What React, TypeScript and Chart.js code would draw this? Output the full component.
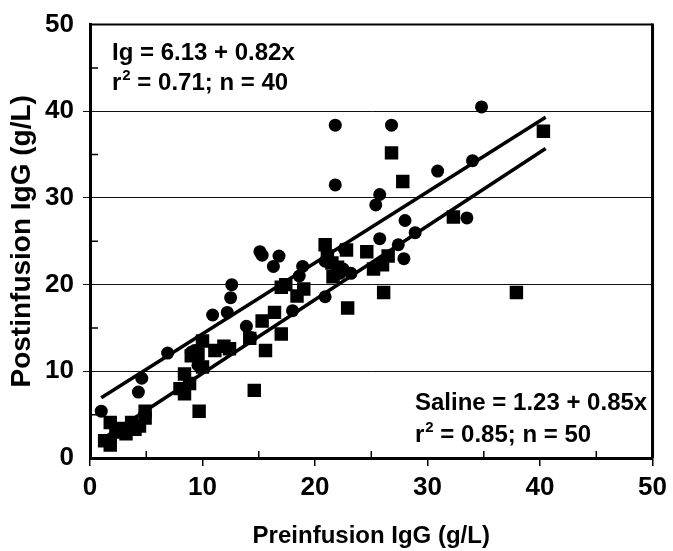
import React, { useEffect, useRef } from 'react';
import { Chart, registerables } from 'chart.js';
Chart.register(...registerables);

// Ig group (circles), n = 40
const igX = [1.0, 4.3, 4.6, 6.9, 9.0, 9.3, 9.6, 10.9, 12.2, 12.5, 12.6, 13.9, 14.3, 15.1, 15.3, 16.3, 16.8, 18.0, 18.6, 18.9, 20.9, 20.9, 21.8, 21.8, 22.6, 22.2, 23.2, 25.4, 25.75, 25.75, 26.8, 27.4, 27.9, 28.0, 28.9, 30.9, 33.5, 34.0, 34.8, 22.5];
const igY = [5.4, 7.6, 9.2, 12.1, 12.2, 12.4, 10.7, 16.5, 16.8, 18.5, 20.0, 15.2, 13.9, 23.8, 23.4, 22.1, 23.3, 17.0, 21.0, 22.1, 18.6, 22.7, 38.4, 31.5, 24.1, 21.3, 21.3, 29.2, 30.4, 25.3, 38.4, 24.6, 23.0, 27.4, 26.0, 33.1, 27.7, 34.3, 40.5, 21.8];

// Saline group (squares), n = 50
const salX = [1.3, 1.8, 1.8, 2.6, 3.2, 3.7, 4.0, 4.4, 4.9, 4.9, 8.4, 8.4, 8.85, 9.0, 9.6, 9.7, 10.0, 10.0, 11.1, 11.9, 14.2, 14.6, 15.3, 15.6, 16.4, 17.0, 17.0, 17.4, 18.4, 20.9, 21.1, 21.6, 22.0, 22.9, 22.8, 24.6, 25.2, 26.0, 26.1, 26.5, 26.8, 27.8, 32.3, 37.9, 40.3, 8.0, 2.3, 21.5, 19.0, 12.4];
const salY = [2.0, 1.5, 4.1, 3.4, 2.8, 4.1, 3.3, 3.7, 4.6, 5.4, 7.4, 9.7, 8.6, 11.8, 12.0, 5.4, 13.5, 10.5, 12.4, 12.9, 13.8, 7.8, 15.8, 12.4, 16.8, 14.3, 19.7, 20.0, 18.7, 24.6, 23.3, 20.9, 22.0, 17.3, 24.0, 23.8, 21.8, 22.3, 19.1, 23.3, 35.2, 31.9, 27.8, 19.1, 37.7, 8.0, 3.0, 22.5, 19.5, 12.6];

// Regression line end points
const igLineX = [1.0, 40.5];
const igLineY = [6.95, 39.3];
const salLineX = [1.0, 40.5];
const salLineY = [2.1, 35.7];

const xMin = 0, xMax = 50, yMin = 0, yMax = 50, step = 10;
const minorTicks = [5, 15, 25, 35, 45];

const igEq = ['Ig = 6.13 + 0.82x', 'r', '2', ' = 0.71; n = 40'];
const salEq = ['Saline = 1.23 + 0.85x', 'r', '2', ' = 0.85; n = 50'];
const xTitle = 'Preinfusion IgG (g/L)';
const yTitle = 'Postinfusion IgG (g/L)';

const FONT = '"Liberation Sans", Arial, sans-serif';

const toPts = (xs: number[], ys: number[]) => xs.map((x, i) => ({ x, y: ys[i] }));

const framePlugin = {
  id: 'frameAndText',
  afterDraw(chart: any) {
    const { ctx, chartArea: a, scales } = chart;
    const xs = scales.x, ys = scales.y;
    ctx.save();
    ctx.strokeStyle = '#000';
    // top and right border
    ctx.lineWidth = 2;
    ctx.beginPath();
    ctx.moveTo(a.left, a.top);
    ctx.lineTo(a.right, a.top);
    ctx.stroke();
    ctx.lineWidth = 3;
    ctx.beginPath();
    ctx.moveTo(a.right, a.top - 1);
    ctx.lineTo(a.right, a.bottom);
    ctx.stroke();
    // minor ticks inside
    ctx.lineWidth = 1.5;
    ctx.beginPath();
    minorTicks.forEach((v) => {
      const py = ys.getPixelForValue(v);
      ctx.moveTo(a.left, py);
      ctx.lineTo(a.left + 8, py);
      const px = xs.getPixelForValue(v);
      ctx.moveTo(px, a.bottom);
      ctx.lineTo(px, a.bottom - 7);
    });
    ctx.stroke();

    // equations
    ctx.fillStyle = '#000';
    ctx.textBaseline = 'alphabetic';
    ctx.textAlign = 'left';
    const big = `bold 24px ${FONT}`;
    const small = `bold 15px ${FONT}`;
    const drawEq = (lines: string[], x: number, y1: number, y2: number) => {
      ctx.font = big;
      ctx.fillText(lines[0], x, y1);
      ctx.fillText(lines[1], x, y2);
      let cx = x + ctx.measureText(lines[1]).width + 1;
      ctx.font = small;
      ctx.fillText(lines[2], cx, y2 - 10);
      cx += ctx.measureText(lines[2]).width;
      ctx.font = big;
      ctx.fillText(lines[3], cx, y2);
    };
    drawEq(igEq, a.left + 22, a.top + 35, a.top + 65);
    drawEq(salEq, a.left + 325, a.bottom - 48, a.bottom - 16);
    ctx.restore();
  },
};

export default function App() {
  const ref = useRef<HTMLCanvasElement>(null);
  useEffect(() => {
    if (!ref.current) return;
    const chart = new Chart(ref.current, {
      type: 'scatter',
      data: {
        datasets: [
          {
            label: 'Ig fit',
            data: toPts(igLineX, igLineY),
            showLine: true,
            borderColor: '#000',
            borderWidth: 3.5,
            pointRadius: 0,
          } as any,
          {
            label: 'Saline fit',
            data: toPts(salLineX, salLineY),
            showLine: true,
            borderColor: '#000',
            borderWidth: 3.5,
            pointRadius: 0,
          } as any,
          {
            label: 'Ig',
            data: toPts(igX, igY),
            pointStyle: 'circle',
            pointRadius: 6.5,
            backgroundColor: '#000',
            borderColor: '#000',
            borderWidth: 0,
          },
          {
            label: 'Saline',
            data: toPts(salX, salY),
            pointStyle: 'rect',
            pointRadius: 9.5,
            backgroundColor: '#000',
            borderColor: '#000',
            borderWidth: 0,
          },
        ],
      },
      options: {
        animation: false,
        responsive: true,
        maintainAspectRatio: false,
        layout: { padding: { top: 22, right: 18, bottom: 0, left: 0 } },
        plugins: { legend: { display: false }, tooltip: { enabled: false } },
        scales: {
          x: {
            type: 'linear',
            min: xMin,
            max: xMax,
            ticks: { stepSize: step, color: '#000', padding: 6, font: { family: FONT, size: 26, weight: 'bold' } },
            grid: { drawOnChartArea: false, drawTicks: true, tickLength: 8, color: '#000', lineWidth: 1.5 },
            border: { display: true, color: '#000', width: 3 },
            title: { display: true, text: xTitle, color: '#000', padding: { top: 0, bottom: 0 }, font: { family: FONT, size: 24, weight: 'bold' } },
            afterFit: (s: any) => { s.height = 93; },
          },
          y: {
            type: 'linear',
            min: yMin,
            max: yMax,
            ticks: { stepSize: step, color: '#000', padding: 9, font: { family: FONT, size: 26, weight: 'bold' } },
            grid: {
              drawOnChartArea: true,
              drawTicks: true,
              tickLength: 7,
              color: (c: any) => (c.tick && (c.tick.value === 0 || c.tick.value === 50) ? 'rgba(0,0,0,0)' : '#111'),
              lineWidth: 1,
            },
            border: { display: true, color: '#000', width: 3 },
            title: { display: true, text: yTitle, color: '#000', padding: { top: 5, bottom: 0 }, font: { family: FONT, size: 28, weight: 'bold' } },
            afterFit: (s: any) => { s.width = 90; },
          },
        },
      },
      plugins: [framePlugin],
    });
    return () => chart.destroy();
  }, []);
  return (
    <div style={{ position: 'fixed', left: 0, top: 0, width: 673, height: 551, background: '#fff' }}>
      <canvas ref={ref} />
    </div>
  );
}
